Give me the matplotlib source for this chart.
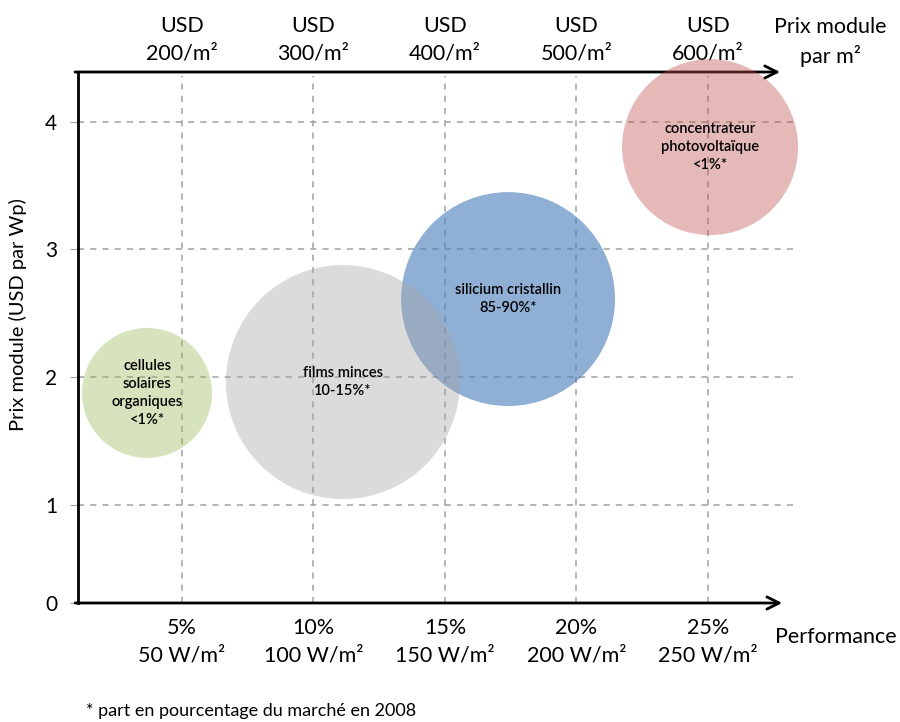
import matplotlib
matplotlib.use("Agg")
import matplotlib.pyplot as plt

plt.rcParams['font.family'] = ['Lato', 'DejaVu Sans']

# data
techs = ["cellules\nsolaires\norganiques\n<1%*", "silicium cristallin\n85-90%*",
         "films minces\n10-15%*", "concentrateur\nphotovoltaïque\n<1%*"]
perf = [3.67, 17.40, 11.12, 25.08]          # rendement (%)
price = [1.875, 2.61, 1.96, 3.80]           # USD par Wp
bubble_d = [93.6, 154, 168.5, 126.7]        # diametre des bulles (pt)
colors = ["#9bbb59", "#4f81bd", "#a5a5a5", "#c0504d"]
alphas = [0.4, 0.63, 0.4, 0.4]

x_ticks = [5, 10, 15, 20, 25]
x_labels = ["5%\n50 W/m²", "10%\n100 W/m²", "15%\n150 W/m²", "20%\n200 W/m²", "25%\n250 W/m²"]
top_labels = ["USD\n200/m²", "USD\n300/m²", "USD\n400/m²", "USD\n500/m²", "USD\n600/m²"]
y_min = 0.23
y_ticks = [y_min, 1, 2, 3, 4]
y_labels = ["0", "1", "2", "3", "4"]

fig = plt.figure(figsize=(9, 7.22), dpi=100)
ax = fig.add_axes([78/900, (722-603)/722, (795-78)/900, (603-72)/722])
ax.set_xlim(1.046, 28.31)
ax.set_ylim(y_min, 4.388)

for s in ax.spines.values():
    s.set_visible(False)

# grid
for xt in x_ticks:
    ax.plot([xt, xt], [y_min, 4.36], ls=(0, (4, 4)), color="#a0a0a0", lw=1.1, zorder=1)
for yt in y_ticks[1:]:
    ax.axhline(yt, ls=(0, (4, 4)), color="#a0a0a0", lw=1.1, zorder=1)

# bubbles
for x, y, d, c, a, t in zip(perf, price, bubble_d, colors, alphas, techs):
    ax.scatter([x], [y], s=d**2, color=c, alpha=a, edgecolors="none", zorder=3, clip_on=False)
    ax.text(x, y, t, ha="center", va="center", fontsize=10.5, fontweight="semibold",
            linespacing=1.38, zorder=5)

# axes lines with arrows
ax.annotate("", xy=(0.986, 0), xytext=(-0.008, 0), xycoords="axes fraction",
            arrowprops=dict(arrowstyle="->", lw=2, color="black", mutation_scale=22), zorder=2)
ax.annotate("", xy=(0.983, 1), xytext=(-0.008, 1), xycoords="axes fraction",
            arrowprops=dict(arrowstyle="->", lw=2, color="black", mutation_scale=22), zorder=2)
ax.plot([0, 0], [0, 1], transform=ax.transAxes, color="black", lw=2, clip_on=False, zorder=2)

ax.set_xticks(x_ticks)
ax.set_xticklabels(x_labels, fontsize=15.5, linespacing=1.45)
ax.set_yticks(y_ticks)
ax.set_yticklabels(y_labels, fontsize=15)
ax.tick_params(axis="x", length=0, pad=11)
ax.tick_params(axis="y", length=6, color="#a0a0a0", pad=9)

top = ax.secondary_xaxis("top")
top.set_xticks(x_ticks)
top.set_xticklabels(top_labels, fontsize=15.5, linespacing=1.45)
top.tick_params(length=0, pad=6)
for s in top.spines.values():
    s.set_visible(False)

fig.text(18/900, 1 - 315/722, "Prix module (USD par Wp)", fontsize=14.5, rotation=90,
         ha="center", va="center")
fig.text(836/900, 1 - 637/722, "Performance", fontsize=15.5, ha="center", va="center")
fig.text(830/900, 1 - 42/722, "Prix module\npar m²", fontsize=15.5, ha="center", va="center",
         linespacing=1.4)
fig.text(86/900, 1 - 711/722, "* part en pourcentage du marché en 2008", fontsize=13,
         ha="left", va="center")

fig.savefig("out.png", dpi=100)
